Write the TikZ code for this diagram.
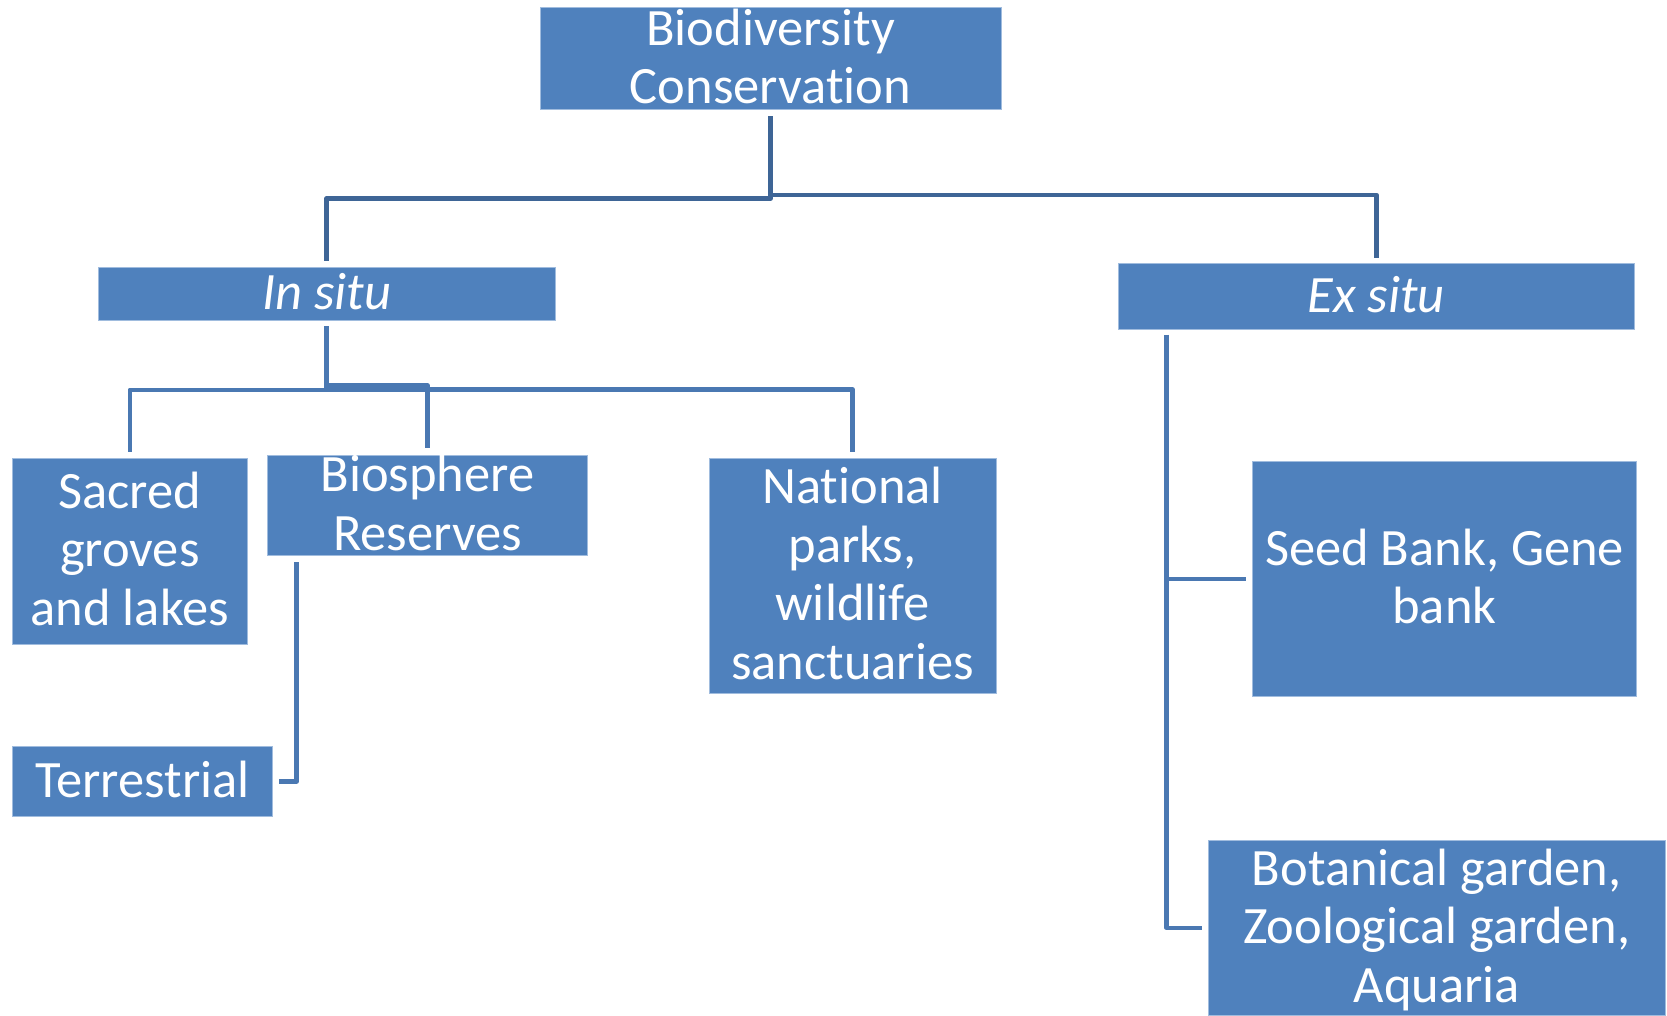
\documentclass[tikz,border=0pt]{standalone}
\usepackage{fontspec}
\setmainfont[Ligatures=NoCommon]{Carlito}
\definecolor{boxblue}{RGB}{79,129,189}
\definecolor{boxedge}{RGB}{160,188,222}
\definecolor{topline}{RGB}{62,101,150}
\definecolor{subline}{RGB}{74,120,178}
\newcommand{\ls}{\rule[-0.2em]{0pt}{1em}}
\begin{document}
\begin{tikzpicture}[x=1pt,y=-1pt,
  box/.style={rectangle, fill=boxblue, draw=boxedge, line width=1pt, inner sep=0pt},
  txt/.style={inner sep=0pt, text=white, align=center, font=\fontsize{52.5pt}{58.5pt}\selectfont},
  topconn/.style={draw=topline, line width=4.5pt, line join=round},
  subconn/.style={draw=subline, line width=4.5pt, line join=round}]
\useasboundingbox (0,0) rectangle (1667,1016);

% boxes
\node[box, minimum width=461pt, minimum height=102.7pt] (bio) at (770.5,58.65) {};
\node[box, minimum width=457.4pt, minimum height=52.3pt] (insitu) at (326.7,293.85) {};
\node[box, minimum width=516.5pt, minimum height=65.3pt] (exsitu) at (1376.25,296.35) {};
\node[box, minimum width=234.3pt, minimum height=185.7pt] (sacred) at (129.85,551.15) {};
\node[box, minimum width=320.5pt, minimum height=100.7pt] (biosph) at (427.55,505.35) {};
\node[box, minimum width=287pt, minimum height=235pt] (national) at (852.5,575.8) {};
\node[box, minimum width=259.9pt, minimum height=70.7pt] (terr) at (142.65,781.35) {};
\node[box, minimum width=384pt, minimum height=234.3pt] (seed) at (1444.5,578.85) {};
\node[box, minimum width=457.4pt, minimum height=174.3pt] (botan) at (1436.7,927.85) {};

% texts
\node[txt] (bio-t) at (bio.center) {\ls Biodiversity\\\ls Conservation};
\node[txt] (insitu-t) at (insitu.center) {\ls\itshape In situ};
\node[txt] (exsitu-t) at (exsitu.center) {\ls\itshape Ex situ};
\node[txt] (sacred-t) at (sacred.center) {\ls Sacred\\\ls groves\\\ls and lakes};
\node[txt] (biosph-t) at (biosph.center) {\ls Biosphere\\\ls Reserves};
\node[txt] (national-t) at (national.center) {\ls National\\\ls parks,\\\ls wildlife\\\ls sanctuaries};
\node[txt] (terr-t) at (terr.center) {\ls Terrestrial};
\node[txt] (seed-t) at (seed.center) {\ls Seed Bank, Gene\\\ls bank};
\node[txt] (botan-t) at (botan.center) {\ls Botanical garden,\\\ls Zoological garden,\\\ls Aquaria};

% connectors
\draw[topconn] ([yshift=-5.7pt]bio.south) -- ++(0,82.3) -| ([yshift=6pt]insitu.north);
\draw[topconn] ([yshift=-5.7pt]bio.south) -- ++(0,78.8) -| ([yshift=5.5pt]exsitu.north);

\draw[subconn] ([yshift=-5.7pt]insitu.south) -- ++(0,63.6) -| ([yshift=5.6pt]sacred.north);
\draw[subconn] ([yshift=-5.7pt]insitu.south) -- ++(0,59.3) -| ([yshift=6.7pt]biosph.north);
\draw[subconn] ([yshift=-5.7pt]insitu.south) -- ++(0,63.3) -| ([yshift=5.6pt]national.north);
\draw[subconn] ([xshift=29.7pt,yshift=-6pt]biosph.south west) |- ([xshift=6.2pt]terr.east);
\draw[subconn] ([xshift=49pt,yshift=-5.3pt]exsitu.south west) |- ([xshift=-5.6pt]seed.west);
\draw[subconn] ([xshift=49pt,yshift=-5.3pt]exsitu.south west) |- ([xshift=-5.1pt]botan.west);
\end{tikzpicture}
\end{document}
